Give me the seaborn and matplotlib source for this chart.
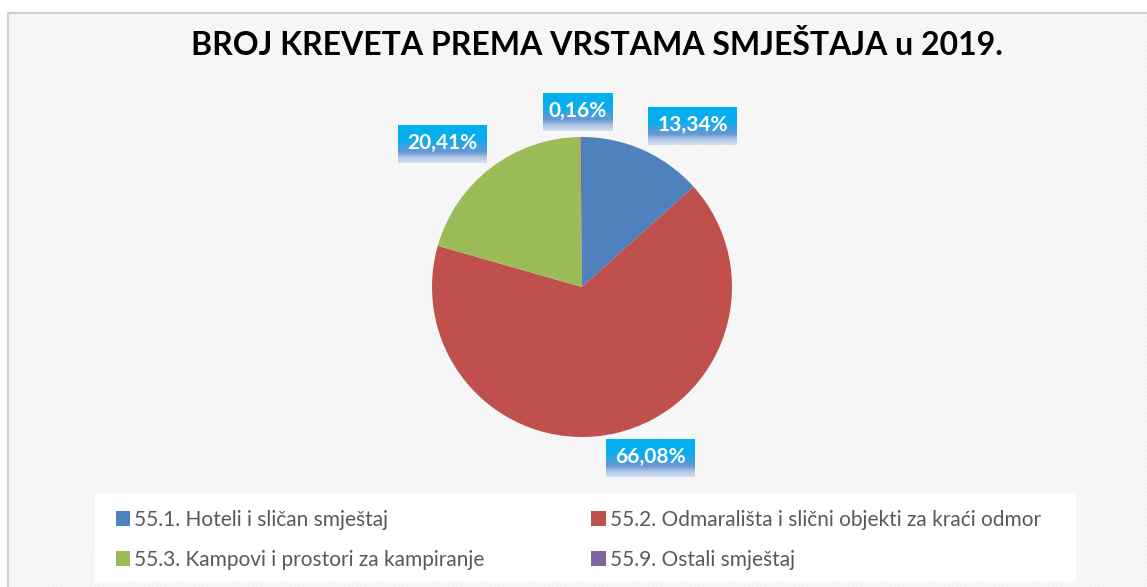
import matplotlib
matplotlib.use("Agg")
import matplotlib.pyplot as plt
from matplotlib.patches import Rectangle, Patch
from matplotlib.colors import LinearSegmentedColormap
import numpy as np
import seaborn as sns

categories = ["55.1. Hoteli i sličan smještaj",
              "55.2. Odmarališta i slični objekti za kraći odmor",
              "55.3. Kampovi i prostori za kampiranje",
              "55.9. Ostali smještaj"]
values = [13.34, 66.08, 20.41, 0.16]
labels = ["13,34%", "66,08%", "20,41%", "0,16%"]
colors = ["#4F81BD", "#C0504D", "#9BBB59", "#8064A2"]
title = "BROJ KREVETA PREMA VRSTAMA SMJEŠTAJA u 2019."

sns.set_theme(style="white")
plt.rcParams['font.family'] = ['Lato', 'DejaVu Sans']
plt.rcParams['hatch.linewidth'] = 1.6

W, H = 1147, 587
fig = plt.figure(figsize=(W / 100, H / 100), dpi=100)
fig.patch.set_facecolor("white")

def fx(px): return px / W
def fy(py): return 1 - py / H

# hatched background panel with border
bg = Rectangle((fx(8), fy(600)), fx(1150) - fx(8), fy(13) - fy(600),
               transform=fig.transFigure, facecolor="white",
               edgecolor="#F4F4F4", hatch="\\" * 8, linewidth=0, zorder=0)
fig.patches.append(bg)
border = Rectangle((fx(8), fy(600)), fx(1150) - fx(8), fy(13) - fy(600),
                   transform=fig.transFigure, facecolor="none",
                   edgecolor="#D0D0D0", linewidth=1.5, zorder=1)
fig.patches.append(border)

# legend white box
lg = Rectangle((fx(95), fy(582)), fx(1076) - fx(95), fy(493) - fy(582),
               transform=fig.transFigure, facecolor="white",
               edgecolor="none", zorder=1)
fig.patches.append(lg)

fig.text(fx(597), fy(45), title, ha="center", va="center",
         fontsize=23, fontweight="bold", color="black", zorder=3)

R = 150
cx, cy = 582, 287
ax = fig.add_axes([fx(cx - R), fy(cy + R), fx(2 * R), fy(cy - R) - fy(cy + R)])
ax.set_zorder(2)
wedges, _ = ax.pie(values, colors=colors, startangle=90, counterclock=False,
                   radius=1.0, wedgeprops=dict(linewidth=0))
ax.set_xlim(-1, 1)
ax.set_ylim(-1, 1)
ax.set_aspect("equal")
ax.axis("off")

# gradient label boxes (left, top, width, height in pixels)
grad = LinearSegmentedColormap.from_list(
    "lbl", [(0.0, "#00B0F0"), (0.4, "#0CADEC"), (0.72, "#6A97D4"),
            (0.86, "#B2C7E6"), (1.0, "#D2DEF0")])
gimg = np.linspace(0, 1, 64).reshape(-1, 1)
label_boxes = [(648, 107, 89, 38), (606, 439, 89, 38), (398, 125, 89, 38), (543, 93, 70, 38)]
for lab, (l, t, w, h) in zip(labels, label_boxes):
    bax = fig.add_axes([fx(l), fy(t + h), fx(w), fy(t) - fy(t + h)])
    bax.set_zorder(5)
    bax.imshow(gimg, cmap=grad, aspect="auto", extent=(0, 1, 0, 1))
    bax.axis("off")
    bax.text(0.5, 0.53, lab, ha="center", va="center", transform=bax.transAxes,
             fontsize=15, fontweight="bold", color="white")

handles = [Patch(facecolor=c, edgecolor="none") for c in colors]
leg = fig.legend([handles[i] for i in [0, 2, 1, 3]],
                 [categories[i] for i in [0, 2, 1, 3]],
                 ncol=2, loc="upper left",
                 bbox_to_anchor=(fx(97), fy(491)),
                 frameon=False, fontsize=15, handlelength=0.7,
                 handleheight=0.7, handletextpad=0.2,
                 columnspacing=5.1, labelspacing=0.95,
                 labelcolor="#595959")
leg.set_zorder(4)

fig.savefig("out.png", dpi=100)
